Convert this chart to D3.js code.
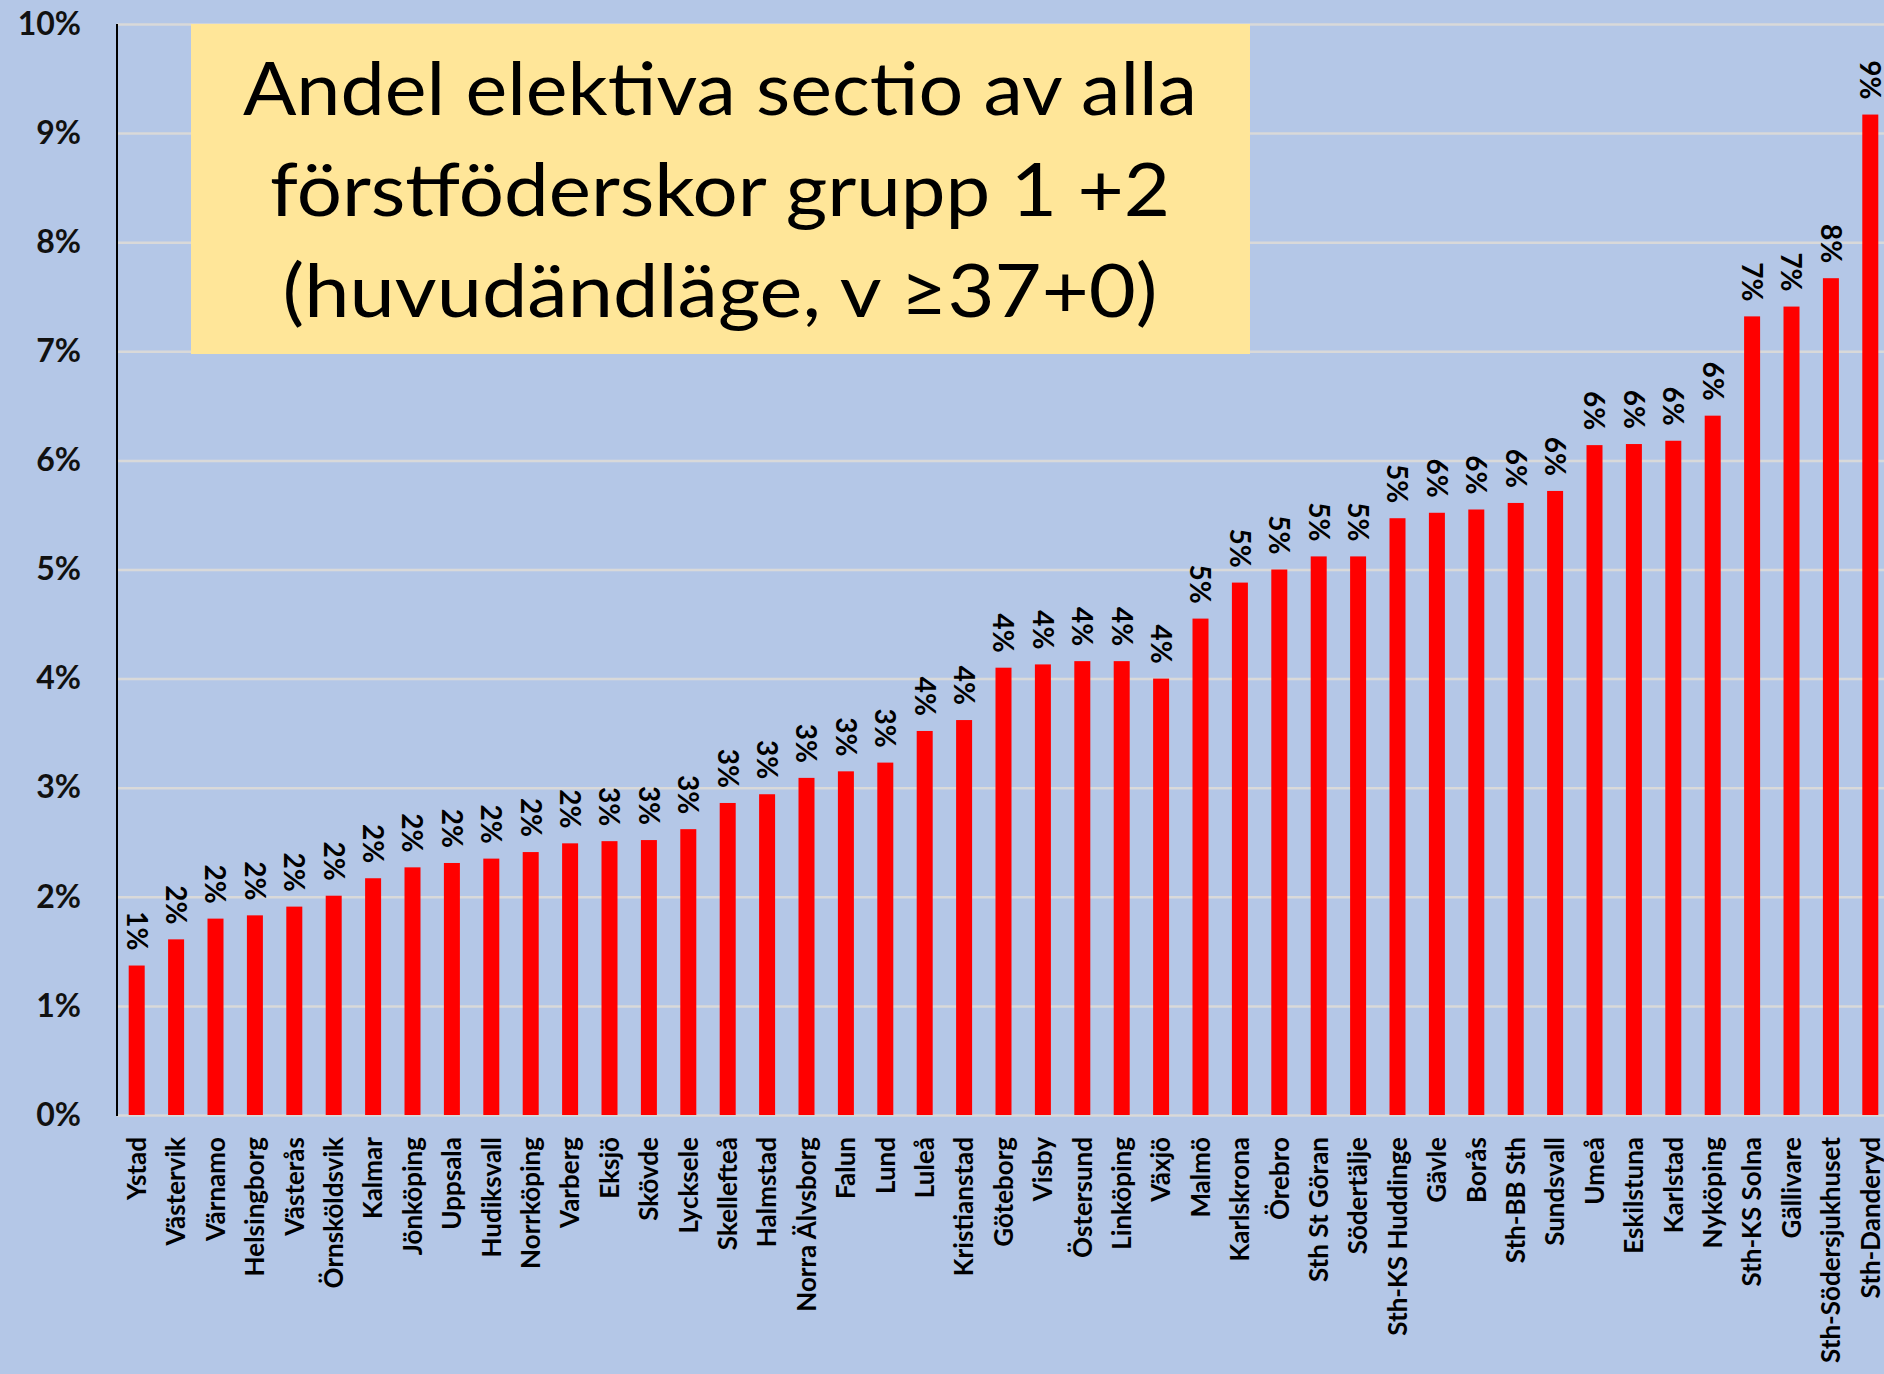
<!DOCTYPE html>
<html>
<head>
<meta charset="utf-8">
<script src="https://cdn.jsdelivr.net/npm/d3@7"></script>
<style>
  html, body { margin: 0; padding: 0; background: #b4c7e7; }
  svg { display: block; }
</style>
</head>
<body>
<script>
const categories = ["Ystad","Västervik","Värnamo","Helsingborg","Västerås","Örnsköldsvik","Kalmar","Jönköping","Uppsala","Hudiksvall","Norrköping","Varberg","Eksjö","Skövde","Lycksele","Skellefteå","Halmstad","Norra Älvsborg","Falun","Lund","Luleå","Kristianstad","Göteborg","Visby","Östersund","Linköping","Växjö","Malmö","Karlskrona","Örebro","Sth St Göran","Södertälje","Sth-KS Huddinge","Gävle","Borås","Sth-BB Sth","Sundsvall","Umeå","Eskilstuna","Karlstad","Nyköping","Sth-KS Solna","Gällivare","Sth-Södersjukhuset","Sth-Danderyd"];
const values = [1.37,1.61,1.80,1.83,1.91,2.01,2.17,2.27,2.31,2.35,2.41,2.49,2.51,2.52,2.62,2.86,2.94,3.09,3.15,3.23,3.52,3.62,4.10,4.13,4.16,4.16,4.00,4.55,4.88,5.00,5.12,5.12,5.47,5.52,5.55,5.61,5.72,6.14,6.15,6.18,6.41,7.32,7.41,7.67,9.17];
const yTicks = [0,1,2,3,4,5,6,7,8,9,10];
const titleLines = ["Andel elektiva sectio av alla", "förstföderskor grupp 1 +2", "(huvudändläge, v \u226537+0)"];

const W = 1884, H = 1374;
const axisX = 117, y0 = 1115, y10 = 24;
const step = 39.4;
const plotRight = axisX + categories.length * step;

const svg = d3.select("body").append("svg").attr("width", W).attr("height", H);
svg.append("rect").attr("width", W).attr("height", H).attr("fill", "#b4c7e7");

const x = d3.scaleBand().domain(categories).range([axisX, plotRight]).paddingInner(0.594).paddingOuter(0.297);
const y = d3.scaleLinear().domain([0, 10]).range([y0, y10]);

// gridlines
const grid = svg.append("g").attr("transform", `translate(${axisX},0)`)
  .call(d3.axisLeft(y).tickValues(yTicks).tickSize(-(W - axisX)).tickFormat(""));
grid.select(".domain").remove();
grid.selectAll("line").attr("stroke", "#d9d9d9").attr("stroke-width", 2.5);

// bars
svg.append("g").selectAll("rect").data(values).join("rect")
  .attr("x", (d, i) => x(categories[i]))
  .attr("width", x.bandwidth())
  .attr("y", d => y(d))
  .attr("height", d => y(0) - y(d))
  .attr("fill", "#ff0000");

// data labels
svg.append("g").selectAll("text").data(values).join("text")
  .attr("transform", (d, i) => `translate(${x(categories[i]) + x.bandwidth() / 2},${y(d) - 15}) rotate(90)`)
  .attr("text-anchor", "end")
  .attr("dy", "0.36em")
  .attr("font-family", "Lato, 'Noto Sans', sans-serif")
  .attr("font-weight", 700)
  .attr("font-size", 28)
  .attr("fill", "#000")
  .text(d => Math.round(d) + "%");

// y axis labels
const yAxis = svg.append("g").attr("transform", `translate(${axisX},0)`)
  .call(d3.axisLeft(y).tickValues(yTicks).tickSize(0).tickPadding(36).tickFormat(d => d + "%"));
yAxis.select(".domain").remove();
yAxis.selectAll("text")
  .attr("font-family", "Lato, 'Noto Sans', sans-serif")
  .attr("font-weight", 700)
  .attr("font-size", 32)
  .attr("fill", "#111");

// y axis line
svg.append("line").attr("x1", axisX).attr("x2", axisX).attr("y1", y10).attr("y2", y0 + 1)
  .attr("stroke", "#000").attr("stroke-width", 2);

// x axis labels
const xAxis = svg.append("g").attr("transform", `translate(0,${y0})`)
  .call(d3.axisBottom(x).tickSize(0).tickPadding(0));
xAxis.select(".domain").remove();
xAxis.selectAll("text")
  .attr("transform", "rotate(-90)")
  .attr("x", -22)
  .attr("y", 0)
  .attr("dy", "0.36em")
  .attr("text-anchor", "end")
  .attr("font-family", "Lato, 'Noto Sans', sans-serif")
  .attr("font-weight", 700)
  .attr("font-size", 26)
  .attr("fill", "#000");

// title box
svg.append("rect").attr("x", 191).attr("y", 24).attr("width", 1059).attr("height", 330).attr("fill", "#ffe699");
const titleWidths = [954, 900, 875];
svg.append("g").selectAll("text").data(titleLines).join("text")
  .attr("x", 720)
  .attr("y", (d, i) => 115 + i * 101)
  .attr("text-anchor", "middle")
  .attr("font-family", "Lato, 'Noto Sans', sans-serif")
  .attr("font-weight", 400)
  .attr("font-size", 74)
  .attr("fill", "#000")
  .attr("textLength", (d, i) => titleWidths[i])
  .attr("lengthAdjust", "spacingAndGlyphs")
  .text(d => d);
</script>
</body>
</html>
